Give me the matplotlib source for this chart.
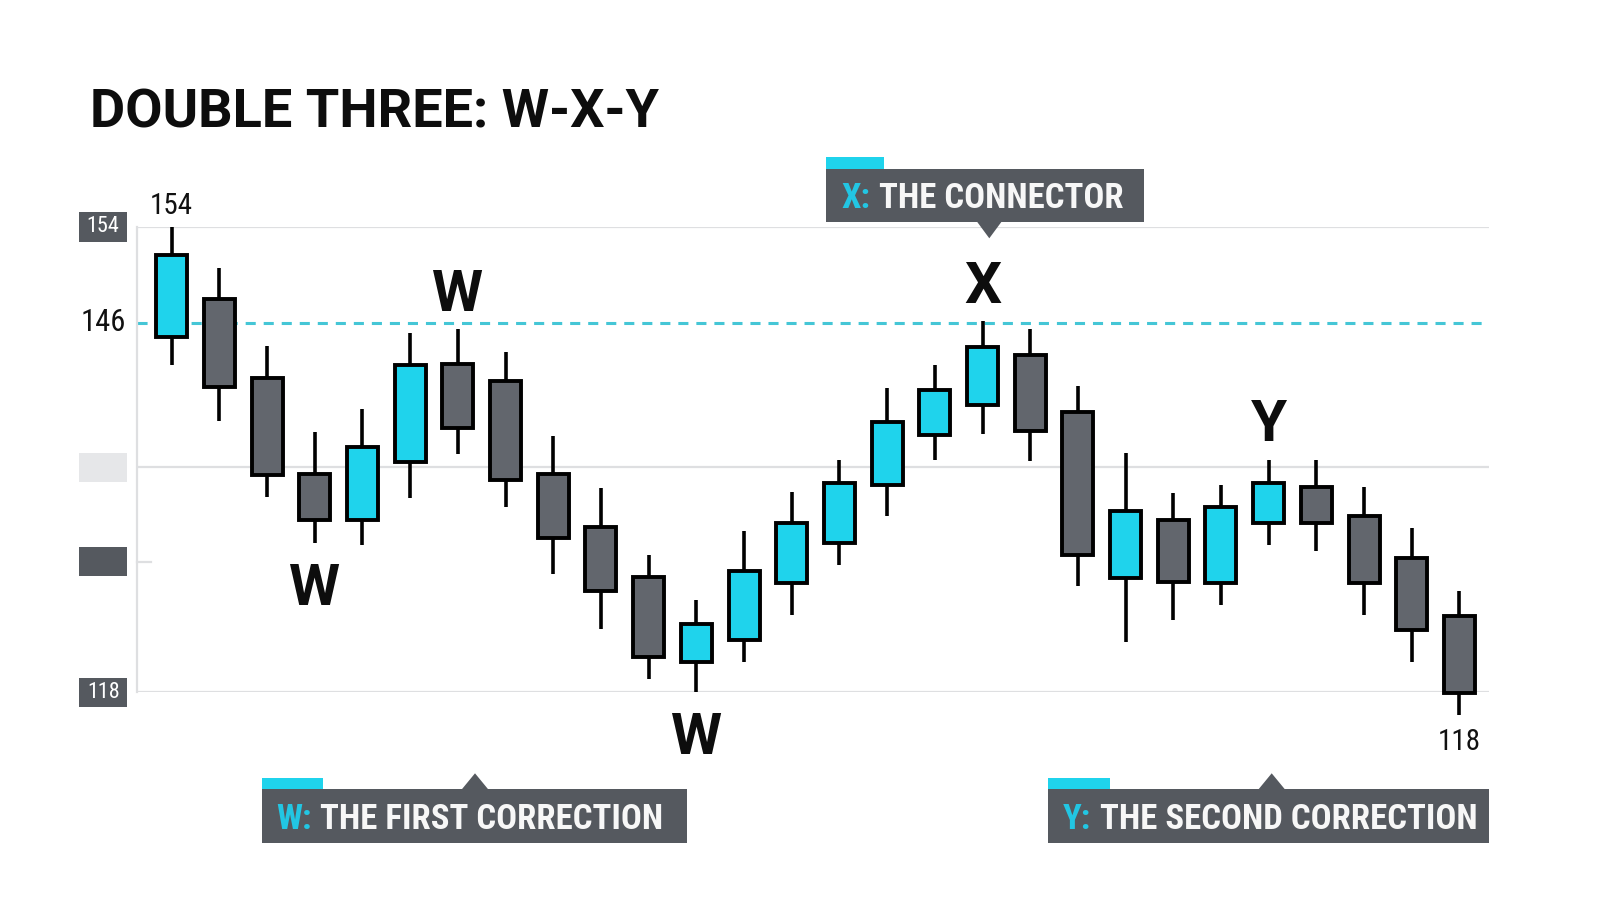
"""
Double three (W-X-Y) correction: candlestick sketch with callouts.
"""

import matplotlib
matplotlib.use("Agg")
import matplotlib.pyplot as plt
from matplotlib import font_manager
from matplotlib.patches import Rectangle, Polygon

# ---- data -------------------------------------------------------------
OPENS = [145.5, 148.4, 142.3, 134.9, 131.3, 135.8, 143.4, 142.1, 134.9, 130.8,
         126.9, 120.3, 122.0, 126.4, 129.5, 134.0, 137.9, 140.2, 144.1, 139.7,
         126.8, 131.3, 126.4, 131.1, 133.9, 131.6, 128.4, 123.9]
HIGHS = [154.0, 150.8, 144.8, 138.1, 139.9, 145.8, 146.1, 144.3, 137.8, 133.8,
         128.6, 125.1, 130.5, 133.5, 136.0, 141.5, 143.3, 146.7, 146.1, 141.7,
         136.5, 133.4, 134.0, 136.0, 136.0, 133.9, 130.7, 125.8]
LOWS = [143.3, 139.0, 133.1, 129.5, 129.4, 133.0, 136.4, 132.3, 127.1, 122.9,
        119.0, 118.0, 120.3, 124.0, 127.8, 131.6, 136.0, 138.0, 135.9, 126.2,
        121.9, 123.6, 124.7, 129.4, 128.9, 124.0, 120.3, 116.2]
CLOSES = [151.8, 141.6, 134.8, 131.3, 137.0, 143.3, 138.4, 134.4, 129.9, 125.8,
          120.7, 123.3, 127.4, 131.1, 134.2, 138.9, 141.4, 144.7, 138.2, 128.6,
          132.0, 126.5, 132.3, 134.2, 131.1, 126.4, 122.8, 117.9]

Y_MIN, Y_MAX = 118, 154
GRID_LEVELS = [154, 135.4, 118]
STUB_LEVEL = 128.1
TICK_LEVELS = [154, 135.4, 128.1, 118]
TICK_TEXT = ["154", "", "", "118"]
RESISTANCE = 146.6
RESISTANCE_TEXT = "146"

# wave labels: candle index, letter, side
WAVE_LABELS = [(3, "W", "below"), (6, "W", "above"), (11, "W", "below"),
               (17, "X", "above"), (23, "Y", "above")]
EXTREMES = [(0, "154", "above"), (27, "118", "below")]

TITLE = "DOUBLE THREE: W-X-Y"
CALLOUTS = [("X:", "THE CONNECTOR"),
            ("W:", "THE FIRST CORRECTION"),
            ("Y:", "THE SECOND CORRECTION")]

# ---- style ------------------------------------------------------------
CYAN = "#1fd3ec"
CYAN_TXT = "#22c6e3"
GRAY = "#62666d"
BOX = "#55595f"
LIGHT_BOX = "#e6e7e9"
GRID = "#dedfe1"

AVAILABLE = {f.name for f in font_manager.fontManager.ttflist}


def pick(*names):
    for n in names:
        if n in AVAILABLE:
            return n
    return "DejaVu Sans"


COND = pick("Roboto Condensed", "Liberation Sans Narrow", "Roboto")
HEAD = pick("Roboto", "Liberation Sans")
NARROW = COND != "Roboto"

fig = plt.figure(figsize=(16, 9.14), dpi=100)
fig.patch.set_facecolor("white")

# axes box placed on pixel layout (left spine x=137, gridlines y=227..692)
ax = fig.add_axes([137 / 1600, 1 - 692 / 914, 1352 / 1600, 465 / 914])
ax.set_xlim(-0.728, 27.62)
ax.set_ylim(Y_MIN, Y_MAX)
for s in ("top", "right", "bottom"):
    ax.spines[s].set_visible(False)
ax.spines["left"].set_color(GRID)
ax.spines["left"].set_linewidth(1.6)
ax.set_xticks([])
ax.set_yticks([])

for lvl in GRID_LEVELS:
    ax.axhline(lvl, color=GRID, lw=1.6, zorder=1)
ax.plot([0, 0.01], [STUB_LEVEL, STUB_LEVEL], transform=ax.get_yaxis_transform(),
        color=GRID, lw=1.6, clip_on=False)
ax.axhline(RESISTANCE, color="#45c6d6", lw=2.2, ls=(0, (3.3, 2.6)), zorder=1.5)

# candles
xs = list(range(len(OPENS)))
ax.vlines(xs, LOWS, HIGHS, color="black", lw=2.6, zorder=2, clip_on=False)
bottoms = [min(o, c) for o, c in zip(OPENS, CLOSES)]
heights = [abs(c - o) for o, c in zip(OPENS, CLOSES)]
colors = [CYAN if c > o else GRAY for o, c in zip(OPENS, CLOSES)]
ax.bar(xs, heights, bottom=bottoms, width=0.65, color=colors,
       edgecolor="black", linewidth=2.8, zorder=3, clip_on=False)

# y-axis value boxes
ytrans = ax.get_yaxis_transform()
box_h = 29 / (465 / (Y_MAX - Y_MIN))
for lvl, txt in zip(TICK_LEVELS, TICK_TEXT):
    fc = LIGHT_BOX if lvl == 135.4 else BOX
    ax.add_patch(Rectangle((-0.0429, lvl - box_h / 2), 0.0357, box_h, transform=ytrans,
                           facecolor=fc, edgecolor="none", clip_on=False))
    if txt:
        ax.text(-0.025, lvl, txt, transform=ytrans, ha="center", va="center",
                color="white", fontsize=16 if NARROW else 13.5, family=COND)
ax.text(-0.0247, RESISTANCE, RESISTANCE_TEXT, transform=ytrans, ha="center",
        va="center", color="#111111", fontsize=22 if NARROW else 18.5, family=COND)

# wave letters and extreme prices
for i, letter, side in WAVE_LABELS:
    if side == "above":
        y, dy = HIGHS[i], 18.5
    else:
        y, dy = LOWS[i], -61.5
    ax.annotate(letter, (i, y), xytext=(0, dy), textcoords="offset pixels",
                ha="center", va="baseline", fontsize=42, fontweight="bold",
                family=HEAD, color="#0d0d0d", annotation_clip=False)
for i, txt, side in EXTREMES:
    if side == "above":
        y, dy = HIGHS[i], 13.4
    else:
        y, dy = LOWS[i], -34.3
    ax.annotate(txt, (i, y), xytext=(0, dy), textcoords="offset pixels",
                ha="center", va="baseline", fontsize=21 if NARROW else 18.5,
                family=COND, color="#111111", annotation_clip=False)

# overlay in pixel units for title and callouts
ov = fig.add_axes([0, 0, 1, 1], zorder=5)
ov.set_xlim(0, 1600)
ov.set_ylim(914, 0)
ov.axis("off")
ov.set_facecolor("none")

ov.text(90, 127.3, TITLE, ha="left", va="baseline", fontsize=39,
        fontweight="bold", family=HEAD, color="#0d0d0d")

renderer = fig.canvas.get_renderer()


def callout(left, top, right, bottom, tab_w, ptr_x, ptr_up, key, rest, text_x, baseline):
    ov.add_patch(Rectangle((left, top), right - left, bottom - top,
                           facecolor=BOX, edgecolor="none"))
    ov.add_patch(Rectangle((left, top - 11.6), tab_w, 11.6,
                           facecolor=CYAN, edgecolor="none"))
    if ptr_up:
        tri = [(ptr_x - 14, top + 1), (ptr_x + 14, top + 1), (ptr_x, top - 16)]
    else:
        tri = [(ptr_x - 13, bottom - 1), (ptr_x + 13, bottom - 1), (ptr_x, bottom + 16.6)]
    ov.add_patch(Polygon(tri, closed=True, facecolor=BOX, edgecolor="none"))
    kw = dict(ha="left", va="baseline", fontweight="bold", family=COND,
              fontsize=25 if NARROW else 22)
    t1 = ov.text(text_x, baseline, key, color=CYAN_TXT, **kw)
    w = t1.get_window_extent(renderer).width
    ov.text(text_x + w + 9, baseline, rest, color="#f7f7f7", **kw)


callout(825.7, 169, 1144.3, 221.7, 58.3, 989.3, False, *CALLOUTS[0], 841, 208.3)
callout(261.7, 789.3, 687.3, 843.3, 61.6, 475, True, *CALLOUTS[1], 276, 829)
callout(1048.3, 789.3, 1489.3, 843.3, 61.7, 1271.7, True, *CALLOUTS[2], 1063, 829)

fig.savefig("out.png", dpi=100, facecolor="white")
plt.close(fig)
